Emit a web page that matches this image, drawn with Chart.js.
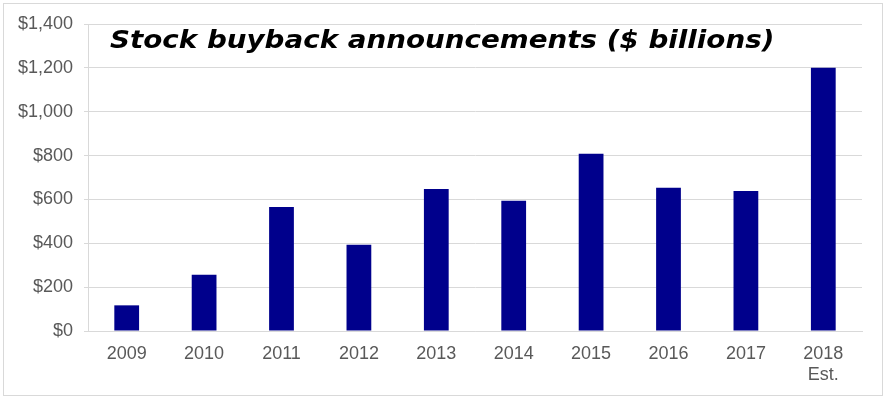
<!DOCTYPE html>
<html lang="en">
<head>
    <meta charset="UTF-8">
    <title>Stock buyback announcements</title>
    <script src="https://cdn.jsdelivr.net/npm/chart.js"></script>
    <style>
        body {
            margin: 0;
            background: #fff;
            font-family: "Liberation Sans", Arial, sans-serif;
        }
        #wrap {
            position: relative;
            width: 889px;
            height: 400px;
        }
        #frame {
            position: absolute;
            left: 3px;
            top: 3px;
            width: 878px;
            height: 391px;
            border: 1px solid #d9d9d9;
        }
        #title {
            position: absolute;
            left: 110px;
            top: 25px;
            font-family: "DejaVu Sans", Verdana, sans-serif;
            font-weight: bold;
            font-style: italic;
            font-size: 25px;
            line-height: normal;
            color: #000;
            white-space: nowrap;
            transform: scaleX(1.11);
            transform-origin: left top;
        }
        canvas {
            position: absolute;
            left: 0;
            top: 0;
        }
    </style>
</head>
<body>
    <div id="wrap">
        <div id="frame"></div>
        <canvas id="myChart" width="889" height="400"></canvas>
        <div id="title">Stock buyback announcements ($ billions)</div>
    </div>

    <script>
        // datos
        var years = ['2009', '2010', '2011', '2012', '2013', '2014', '2015', '2016', '2017', ['2018', 'Est.']];
        var buybacks = [117, 256, 566, 393, 648, 594, 808, 653, 639, 1200];
        var yTicks = [0, 200, 400, 600, 800, 1000, 1200, 1400];

        var ctx = document.getElementById('myChart').getContext('2d');
        var myChart = new Chart(ctx, {
            type: 'bar',
            data: {
                labels: years,
                datasets: [{
                    label: 'Buybacks',
                    data: buybacks,
                    backgroundColor: '#00008c',
                    borderWidth: 0,
                    barPercentage: 0.32,
                    categoryPercentage: 1
                }]
            },
            options: {
                responsive: false,
                animation: false,
                layout: {
                    padding: { left: 0, right: 27, top: 24, bottom: 0 }
                },
                plugins: {
                    legend: { display: false },
                    tooltip: { enabled: false }
                },
                scales: {
                    x: {
                        grid: { display: false, drawTicks: false },
                        border: { display: true, color: '#d9d9d9', width: 1 },
                        ticks: {
                            color: '#595959',
                            font: { family: '"Liberation Sans", Arial, sans-serif', size: 18 },
                            padding: 12,
                            maxRotation: 0
                        },
                        afterFit: function (scale) { scale.height = 69; }
                    },
                    y: {
                        min: 0,
                        max: 1400,
                        afterBuildTicks: function (scale) {
                            scale.ticks = yTicks.map(function (v) { return { value: v }; });
                        },
                        grid: { color: '#d9d9d9', tickLength: 4 },
                        border: { display: true, color: '#d9d9d9' },
                        ticks: {
                            color: '#595959',
                            font: { family: '"Liberation Sans", Arial, sans-serif', size: 18 },
                            padding: 11,
                            callback: function (v) { return '$' + v.toLocaleString('en-US'); }
                        },
                        afterFit: function (scale) { scale.width = 88; }
                    }
                }
            }
        });
    </script>
</body>
</html>
